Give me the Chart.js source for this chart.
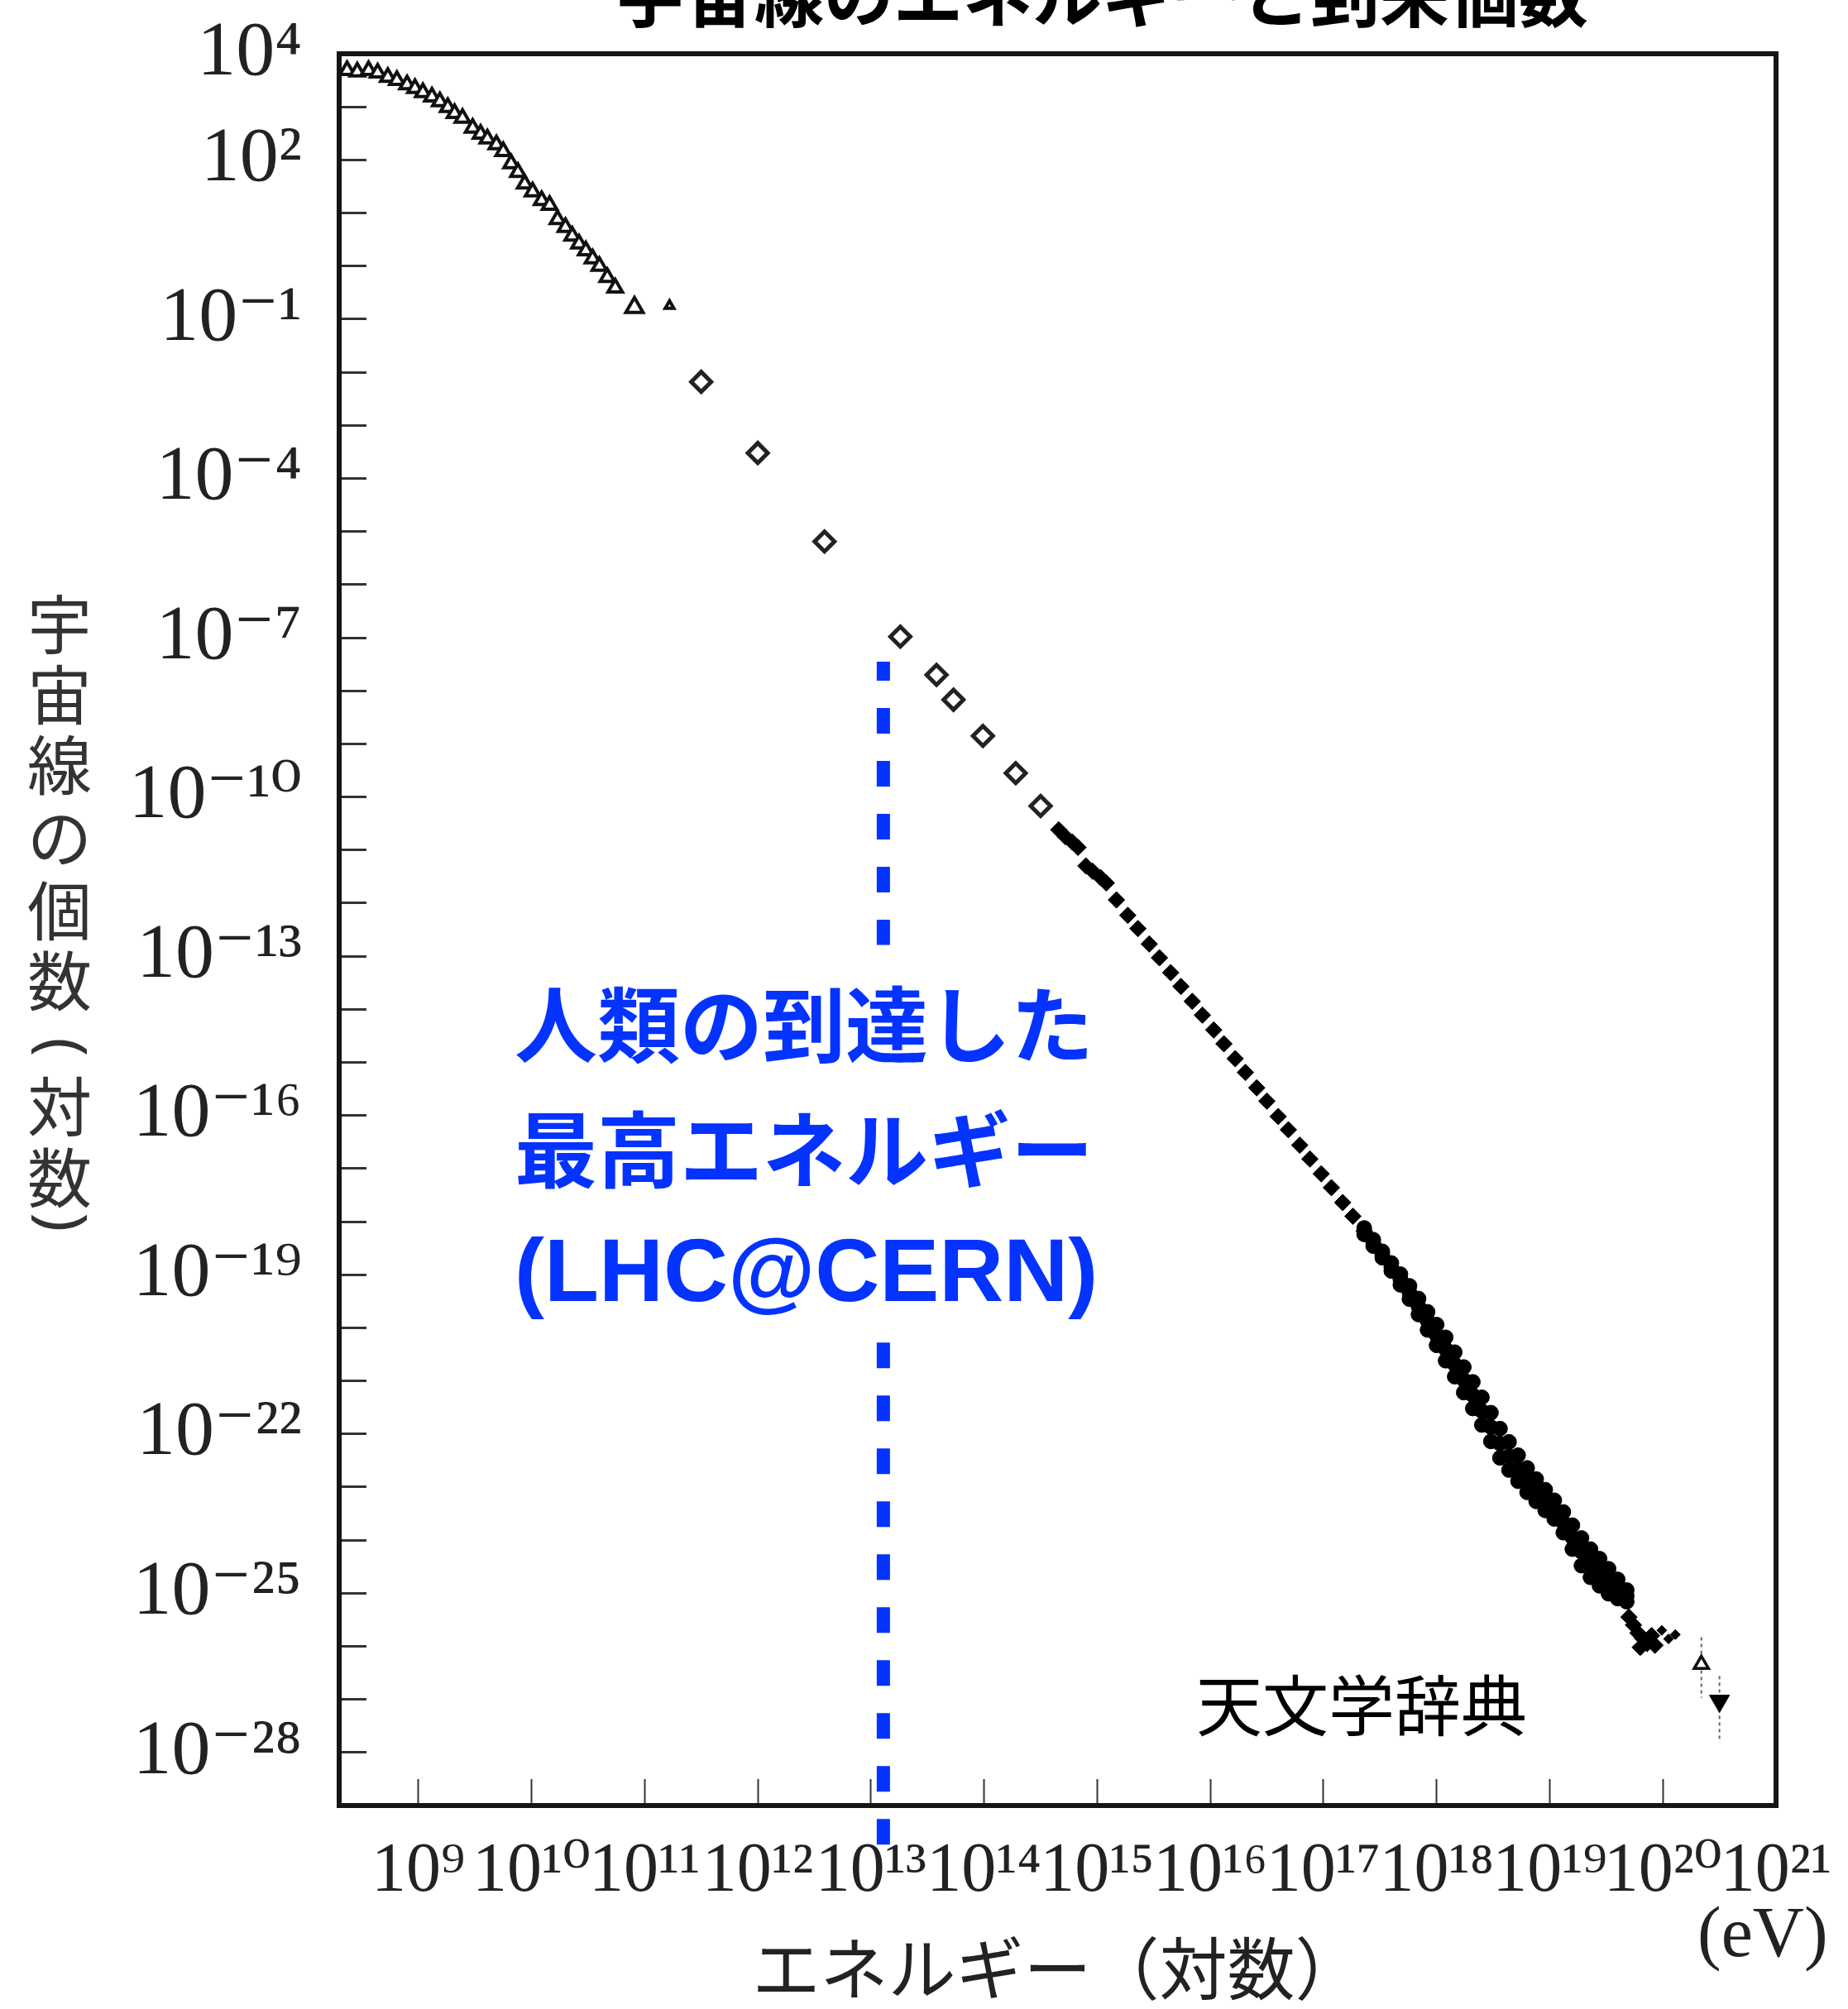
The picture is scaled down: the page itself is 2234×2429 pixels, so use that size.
<!DOCTYPE html>
<html>
<head>
<meta charset="utf-8">
<title>宇宙線のエネルギーと到来個数</title>
<script src="https://cdn.jsdelivr.net/npm/chart.js@4.4.1/dist/chart.umd.min.js"></script>
<style>
  html, body { margin: 0; padding: 0; background: #fff; }
  #wrap { width: 2234px; height: 2429px; }
</style>
</head>
<body>
<div id="wrap"><canvas id="chart" width="2234" height="2429"></canvas></div>
<script>
'use strict';

// all values are log10 exponents (energy in eV, flux in relative units)
var lowE = [8.37, 8.46, 8.56, 8.64, 8.73, 8.81, 8.90, 8.97, 9.04, 9.12, 9.19, 9.26, 9.32, 9.39, 9.48, 9.55, 9.61, 9.69,
  9.75, 9.82, 9.88, 9.94, 10.01, 10.09, 10.16, 10.23, 10.30, 10.36, 10.42, 10.48, 10.54, 10.60, 10.67, 10.74, 10.91, 11.22];
var lowF = [3.69, 3.66, 3.69, 3.64, 3.56, 3.50, 3.42, 3.35, 3.27, 3.19, 3.10, 2.99, 2.88, 2.79, 2.60, 2.49, 2.40, 2.29,
  2.16, 1.93, 1.77, 1.55, 1.40, 1.24, 1.15, 0.88, 0.73, 0.57, 0.42, 0.29, 0.14, 0.00, -0.21, -0.41, -0.78, -0.75];

var midE = [11.50, 12.00, 12.59, 13.26, 13.58, 13.73, 13.99, 14.28, 14.50];
var midF = [-2.18, -3.52, -5.19, -6.98, -7.70, -8.17, -8.85, -9.55, -10.17];

var chainE = [14.66, 14.72, 14.78, 14.83, 14.90, 14.96, 15.03, 15.08, 15.17, 15.27, 15.36, 15.46, 15.55, 15.65, 15.74,
  15.84, 15.93, 16.03, 16.12, 16.22, 16.31, 16.41, 16.50, 16.60, 16.69, 16.79, 16.88, 16.98, 17.07, 17.17, 17.26, 17.36, 17.45];
var chainF = [-10.62, -10.75, -10.85, -10.95, -11.30, -11.40, -11.52, -11.62, -11.94, -12.23, -12.48, -12.77, -13.03, -13.31, -13.57,
  -13.85, -14.11, -14.39, -14.65, -14.93, -15.19, -15.48, -15.73, -16.02, -16.27, -16.56, -16.82, -17.10, -17.36, -17.64, -17.90, -18.18, -18.44];

// the thick air-shower band: upper edge, middle and lower edge read at each energy
var showerE = [17.36, 17.44, 17.52, 17.60, 17.68, 17.76, 17.84, 17.92, 18.00, 18.08, 18.16, 18.24,
  18.32, 18.40, 18.48, 18.56, 18.64, 18.72, 18.80, 18.88, 18.96, 19.04, 19.12, 19.20, 19.28, 19.36, 19.44, 19.52, 19.60, 19.68];
var showerHi = [-18.12, -18.34, -18.56, -18.78, -18.99, -19.21, -19.45, -19.70, -19.94, -20.18, -20.46, -20.74,
  -21.02, -21.31, -21.60, -21.90, -22.15, -22.40, -22.64, -22.85, -23.05, -23.25, -23.47, -23.72, -23.96, -24.17, -24.35, -24.54, -24.74, -24.94];
var showerMid = [-18.18, -18.40, -18.62, -18.86, -19.09, -19.34, -19.60, -19.87, -20.14, -20.40, -20.69, -20.98,
  -21.27, -21.57, -21.87, -22.18, -22.42, -22.65, -22.87, -23.06, -23.25, -23.43, -23.67, -23.95, -24.22, -24.44, -24.61, -24.78, -24.92, -25.05];
var showerLo = [-18.24, -18.46, -18.68, -18.93, -19.19, -19.46, -19.75, -20.04, -20.33, -20.62, -20.92, -21.22,
  -21.52, -21.83, -22.14, -22.45, -22.68, -22.89, -23.10, -23.27, -23.44, -23.60, -23.86, -24.17, -24.48, -24.70, -24.86, -25.01, -25.10, -25.16];

var tailE = [19.70, 19.74, 19.78, 19.82, 19.86, 19.80, 19.90, 19.93];
var tailF = [-25.45, -25.60, -25.75, -25.85, -25.95, -26.02, -25.80, -25.98];
var strayE = [19.99, 20.05, 20.11];
var strayF = [-25.70, -25.86, -25.78];

// highest-energy events: open triangle and a filled upper limit, with their bars
var limitE = [20.34, 20.50];
var limitF = [-26.34, -27.03];
var limitHi = [-25.83, -26.56];
var limitLo = [-26.97, -27.81];

// LHC energy (13 TeV) and the vertical extent of the blue marker line
var lhcE = 13.11;
var lhcUpper = [-7.45, -12.79];
var lhcLower = [-20.28, -29.74];

var xMinExp = 8.3, xMaxExp = 21;
var yMinExp = -29, yMaxExp = 4;
var xLabelExps = [9, 10, 11, 12, 13, 14, 15, 16, 17, 18, 19, 20, 21];
var yLabelExps = [4, 2, -1, -4, -7, -10, -13, -16, -19, -22, -25, -28];

var titleText = '宇宙線のエネルギーと到来個数';
var yTitleChars = ['宇', '宙', '線', 'の', '個', '数', '(', '対', '数', ')'];
var xTitleText = 'エネルギー（対数）';
var unitText = '(eV)';
var sourceText = '天文学辞典';
var noteLines = ['人類の到達した', '最高エネルギー', '(LHC@CERN)'];

var blue = '#0433ff';
var serif = '"Liberation Serif", "DejaVu Serif", serif';
var sup = {'0': '⁰', '1': '¹', '2': '²', '3': '³', '4': '⁴', '5': '⁵', '6': '⁶', '7': '⁷', '8': '⁸', '9': '⁹', '-': '⁻'};

function pts(e, f) {
  return e.map(function(v, i) { return {x: Math.pow(10, v), y: Math.pow(10, f[i])}; });
}
function powLabel(exp) {
  return '10' + String(exp).split('').map(function(c) { return sup[c]; }).join('');
}
function decades(a, b) {
  var out = [];
  for (var e = a; e <= b; e++) out.push({value: Math.pow(10, e)});
  return out;
}
function vbar(e, hi, lo) {
  return [{x: Math.pow(10, e), y: Math.pow(10, hi)}, {x: Math.pow(10, e), y: Math.pow(10, lo)}];
}
// keep the chart area fixed: drop the extra room Chart.js reserves for the end labels
function noPad(scale) {
  scale.paddingLeft = 0; scale.paddingRight = 0; scale.paddingTop = 0; scale.paddingBottom = 0;
}

var filled = function(label, data, r, style) {
  return {label: label, data: data, pointStyle: style || 'rectRot', pointRadius: r,
    pointBackgroundColor: '#000', pointBorderColor: '#000', pointBorderWidth: 1};
};

var datasets = [
  {label: 'low energy', data: pts(lowE, lowF), pointStyle: 'triangle',
    pointRadius: function(c) {
      if (c.dataIndex === lowE.length - 1) return 6;
      return c.dataIndex === lowE.length - 2 ? 12 : 10;
    },
    pointBackgroundColor: '#fff', pointBorderColor: '#111', pointBorderWidth: 4},
  {label: 'direct', data: pts(midE, midF), pointStyle: 'rectRot', pointRadius: 12,
    pointBackgroundColor: '#fff', pointBorderColor: '#222', pointBorderWidth: 5},
  filled('chain', pts(chainE, chainF), 10),
  filled('shower hi', pts(showerE, showerHi), 9, 'circle'),
  filled('shower mid', pts(showerE, showerMid), 9, 'circle'),
  filled('shower lo', pts(showerE, showerLo), 9, 'circle'),
  filled('tail', pts(tailE, tailF), 10),
  filled('stray', pts(strayE, strayF), 6),
  {label: 'event', data: pts([limitE[0]], [limitF[0]]), pointStyle: 'triangle', pointRadius: 10,
    pointBackgroundColor: '#fff', pointBorderColor: '#111', pointBorderWidth: 3.5},
  {label: 'limit', data: pts([limitE[1]], [limitF[1]]), pointStyle: 'triangle', pointRadius: 14, pointRotation: 180,
    pointBackgroundColor: '#000', pointBorderColor: '#000', pointBorderWidth: 1},
  {type: 'line', label: 'bar1', data: vbar(limitE[0], limitHi[0], limitLo[0]), borderColor: '#666',
    borderWidth: 2, borderDash: [4, 4], pointRadius: 0},
  {type: 'line', label: 'bar2', data: vbar(limitE[1], limitHi[1], limitLo[1]), borderColor: '#666',
    borderWidth: 2, borderDash: [4, 4], pointRadius: 0},
  {type: 'line', label: 'LHC', data: vbar(lhcE, lhcUpper[0], lhcUpper[1]), borderColor: blue,
    borderWidth: 16, borderDash: [31, 33], borderDashOffset: 8, borderCapStyle: 'butt', pointRadius: 0, clip: false},
  {type: 'line', label: 'LHC2', data: vbar(lhcE, lhcLower[0], lhcLower[1]), borderColor: blue,
    borderWidth: 16, borderDash: [31, 33], borderCapStyle: 'butt', pointRadius: 0, clip: false}
];

var decor = {
  id: 'decor',
  beforeDatasetsDraw: function(chart) {
    var ctx = chart.ctx, a = chart.chartArea;
    ctx.save();
    ctx.strokeStyle = '#151515';
    ctx.lineWidth = 6;
    ctx.strokeRect(a.left, a.top, a.right - a.left, a.bottom - a.top);
    ctx.restore();
  },
  afterDraw: function(chart) {
    var ctx = chart.ctx;
    ctx.save();
    ctx.textAlign = 'center';
    ctx.textBaseline = 'middle';

    // title, cut by the top edge like the scan
    ctx.fillStyle = '#000';
    ctx.font = 'bold 84px "Noto Sans CJK JP"';
    ctx.fillText(titleText, 1332, -6);

    // vertical y title, one character under the other
    var ys = [755, 840, 925, 1013, 1101, 1186, 1266, 1338, 1424, 1478];
    ctx.fillStyle = '#333';
    yTitleChars.forEach(function(c, i) {
      if (c === '(' || c === ')') {
        ctx.save();
        ctx.translate(72, ys[i]);
        ctx.rotate(Math.PI / 2);
        ctx.font = '76px "Noto Sans"';
        ctx.fillText(c, 0, 0);
        ctx.restore();
      } else {
        ctx.font = '78px "Noto Sans CJK JP"';
        ctx.fillText(c, 72, ys[i]);
      }
    });

    // unit
    ctx.fillStyle = '#222';
    ctx.textAlign = 'left';
    ctx.font = '86px ' + serif;
    ctx.fillText(unitText, 2052, 2342);

    // source
    ctx.fillStyle = '#000';
    ctx.font = '80px "Noto Sans CJK JP"';
    ctx.textAlign = 'center';
    ctx.fillText(sourceText, 1646, 2062);

    // blue note
    ctx.fillStyle = blue;
    ctx.textAlign = 'left';
    ctx.font = 'bold 100px "Noto Sans CJK JP"';
    ctx.fillText(noteLines[0], 622, 1239);
    ctx.fillText(noteLines[1], 622, 1390);
    ctx.font = 'bold 108px "Liberation Sans"';
    ctx.fillText(noteLines[2], 622, 1543);
    ctx.restore();
  }
};

new Chart(document.getElementById('chart').getContext('2d'), {
  type: 'scatter',
  data: {datasets: datasets},
  options: {
    responsive: false,
    animation: false,
    events: [],
    layout: {padding: {top: 65, right: 87, bottom: 0, left: 0}},
    plugins: {legend: {display: false}, tooltip: {enabled: false}},
    scales: {
      x: {
        type: 'logarithmic',
        min: Math.pow(10, xMinExp),
        max: Math.pow(10, xMaxExp),
        afterBuildTicks: function(scale) { scale.ticks = decades(9, xMaxExp); },
        afterFit: function(scale) { scale.height = 246; noPad(scale); },
        border: {display: false},
        grid: {drawOnChartArea: false, drawTicks: true, tickLength: -32, tickWidth: 2, tickColor: '#333'},
        ticks: {
          autoSkip: false, maxRotation: 0, minRotation: 0, padding: 63,
          color: '#222', font: {family: serif, size: 84},
          callback: function(v) {
            var e = Math.round(Math.log10(v));
            return xLabelExps.indexOf(e) >= 0 ? powLabel(e) : '';
          }
        },
        title: {display: true, text: xTitleText, color: '#222', padding: 0,
          font: {family: '"Noto Sans CJK JP"', size: 82}}
      },
      y: {
        type: 'logarithmic',
        min: Math.pow(10, yMinExp),
        max: Math.pow(10, yMaxExp),
        afterBuildTicks: function(scale) { scale.ticks = decades(yMinExp, yMaxExp); },
        afterFit: function(scale) { scale.width = 410; noPad(scale); },
        border: {display: false},
        grid: {drawOnChartArea: false, drawTicks: true, tickLength: -33, tickWidth: 3, tickColor: '#333'},
        ticks: {
          autoSkip: false, padding: 78,
          color: '#222', font: {family: serif, size: 94},
          callback: function(v) {
            var e = Math.round(Math.log10(v));
            return yLabelExps.indexOf(e) >= 0 ? powLabel(e) : '';
          }
        }
      }
    }
  },
  plugins: [decor]
});
</script>
</body>
</html>
